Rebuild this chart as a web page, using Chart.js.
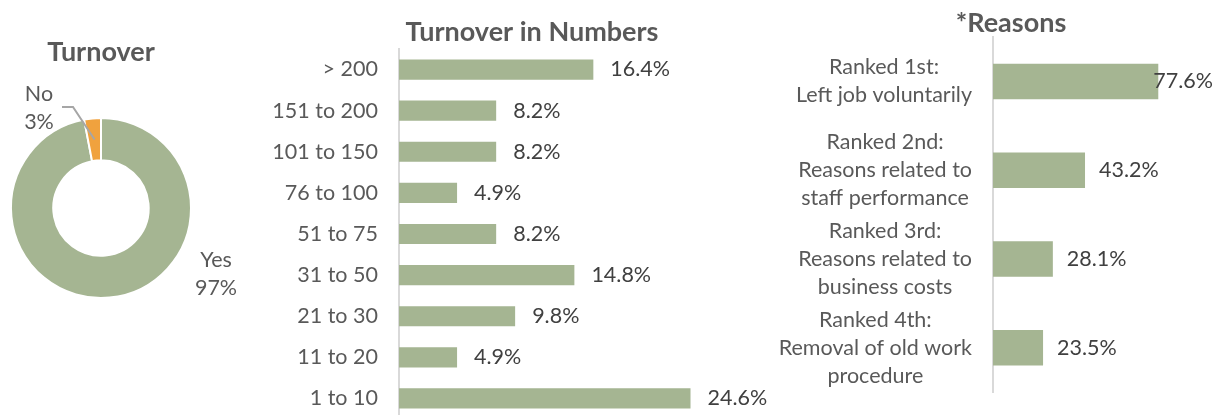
<!DOCTYPE html>
<html>
<head>
<meta charset="utf-8">
<title>Staff turnover</title>
<script src="https://cdn.jsdelivr.net/npm/chart.js@4.4.1/dist/chart.umd.min.js"></script>
<style>
  html, body { margin: 0; padding: 0; background: #ffffff; overflow: hidden; width: 1222px; height: 415px; }
  canvas { position: absolute; top: 0; }
</style>
</head>
<body>
<canvas id="turnover" width="250" height="415" style="left:0;width:250px;height:415px"></canvas>
<canvas id="numbers" width="540" height="420" style="left:260px;width:540px;height:420px"></canvas>
<canvas id="reasons" width="462" height="415" style="left:760px;width:462px;height:415px"></canvas>
<script>
// ---- data ----
const turnoverLabels = ['Yes', 'No'];
const turnoverValues = [97, 3];

const rangeLabels = ['> 200', '151 to 200', '101 to 150', '76 to 100', '51 to 75', '31 to 50', '21 to 30', '11 to 20', '1 to 10'];
const rangeValues = [16.4, 8.2, 8.2, 4.9, 8.2, 14.8, 9.8, 4.9, 24.6];

const reasonLabels = [
  ['Ranked 1st:', 'Left job voluntarily'],
  ['Ranked 2nd:', 'Reasons related to', 'staff performance'],
  ['Ranked 3rd:', 'Reasons related to', 'business costs'],
  ['Ranked 4th:', 'Removal of old work', 'procedure']
];
const reasonValues = [77.6, 43.2, 28.1, 23.5];

// ---- styling ----
const FONT = 'Lato, "Open Sans", sans-serif';
const GREEN = '#A5B592';
const ORANGE = '#F0A23E';
const LABEL_GREY = '#595959';
const VALUE_GREY = '#404040';
const AXIS_GREY = '#D9D9D9';
const TEXT_SIZE = 21.5;
const LINE_GAP = 28;
const TITLE_SIZE = 27;

// Value labels placed just past the end of each bar, kept inside the canvas
const valueLabels = {
  id: 'valueLabels',
  afterDatasetsDraw(chart, args, opts) {
    const ctx = chart.ctx;
    const meta = chart.getDatasetMeta(0);
    const values = chart.data.datasets[0].data;
    ctx.save();
    ctx.font = `${TEXT_SIZE}px ${FONT}`;
    ctx.fillStyle = VALUE_GREY;
    ctx.textAlign = 'left';
    ctx.textBaseline = 'middle';
    meta.data.forEach((bar, i) => {
      const text = values[i].toFixed(1) + '%';
      const w = ctx.measureText(text).width;
      let x = bar.x + opts.offset;
      const limit = chart.width - opts.rightMargin;
      if (x + w > limit) x = limit - w;
      ctx.fillText(text, x, bar.y);
    });
    ctx.restore();
  }
};

// Category labels: each block is right-aligned against the axis,
// with its lines centred inside the block
const blockLabels = {
  id: 'blockLabels',
  afterDraw(chart, args, opts) {
    const ctx = chart.ctx;
    const scale = chart.scales.y;
    ctx.save();
    ctx.font = `${TEXT_SIZE}px ${FONT}`;
    ctx.fillStyle = LABEL_GREY;
    ctx.textAlign = 'center';
    ctx.textBaseline = 'middle';
    chart.data.labels.forEach((label, i) => {
      const lines = Array.isArray(label) ? label : [label];
      const y = scale.getPixelForTick(i);
      const widest = Math.max(...lines.map(l => ctx.measureText(l).width));
      const cx = scale.right - opts.padding - widest / 2;
      lines.forEach((line, j) => {
        ctx.fillText(line, cx, y + (j - (lines.length - 1) / 2) * LINE_GAP);
      });
    });
    ctx.restore();
  }
};

// Doughnut slice labels with a leader line for the small slice
const donutLabels = {
  id: 'donutLabels',
  afterDatasetsDraw(chart) {
    const ctx = chart.ctx;
    const arcs = chart.getDatasetMeta(0).data;
    const cx = arcs[0].x, cy = arcs[0].y;
    ctx.save();
    ctx.font = `${TEXT_SIZE}px ${FONT}`;
    ctx.fillStyle = LABEL_GREY;
    ctx.textAlign = 'center';
    ctx.textBaseline = 'middle';

    // "Yes" sits outside the lower right of the ring
    ctx.fillText(turnoverLabels[0], cx + 115, cy + 52);
    ctx.fillText(turnoverValues[0] + '%', cx + 115, cy + 80);

    // "No" sits above left, joined to its slice by a bent line
    ctx.fillText(turnoverLabels[1], cx - 62, cy - 114);
    ctx.fillText(turnoverValues[1] + '%', cx - 62, cy - 86);

    const p = arcs[1].getCenterPoint();
    ctx.strokeStyle = '#A6A6A6';
    ctx.lineWidth = 2;
    ctx.beginPath();
    ctx.moveTo(cx - 39, cy - 101);
    ctx.lineTo(cx - 28, cy - 101);
    ctx.lineTo(p.x, p.y);
    ctx.stroke();
    ctx.restore();
  }
};

const titleFont = { family: FONT, size: TITLE_SIZE, weight: 'bold', lineHeight: 1.2 };

// ---- Turnover (doughnut) ----
new Chart(document.getElementById('turnover'), {
  type: 'doughnut',
  data: {
    labels: turnoverLabels,
    datasets: [{
      data: turnoverValues,
      backgroundColor: [GREEN, ORANGE],
      borderColor: '#ffffff',
      borderWidth: 2,
      hoverOffset: 0
    }]
  },
  options: {
    responsive: false,
    animation: false,
    cutout: '53%',
    layout: { padding: { left: 10, right: 58, top: 0, bottom: 116 } },
    plugins: {
      legend: { display: false },
      tooltip: { enabled: false },
      title: {
        display: true, text: 'Turnover', color: LABEL_GREY,
        font: titleFont, padding: { top: 36, bottom: 48.6 }
      }
    }
  },
  plugins: [donutLabels]
});

// ---- Turnover in Numbers (horizontal bars) ----
new Chart(document.getElementById('numbers'), {
  type: 'bar',
  data: {
    labels: rangeLabels,
    datasets: [{
      data: rangeValues,
      backgroundColor: GREEN,
      categoryPercentage: 1,
      barPercentage: 0.49
    }]
  },
  options: {
    indexAxis: 'y',
    responsive: false,
    animation: false,
    layout: { padding: { left: 49.5, right: 45.5, top: 0, bottom: 1 } },
    scales: {
      x: { display: false, min: 0, max: 30 },
      y: {
        grid: { display: false, drawTicks: false },
        border: { display: true, color: AXIS_GREY, width: 2 },
        ticks: { display: false },
        afterFit(scale) { scale.width = 89.5; }
      }
    },
    plugins: {
      legend: { display: false },
      tooltip: { enabled: false },
      title: {
        display: true, text: 'Turnover in Numbers', color: LABEL_GREY,
        font: titleFont, padding: { top: 15.6, bottom: 1 }
      },
      valueLabels: { offset: 17, rightMargin: 0 },
      blockLabels: { padding: 21 }
    }
  },
  plugins: [valueLabels, blockLabels]
});

// ---- *Reasons (horizontal bars) ----
new Chart(document.getElementById('reasons'), {
  type: 'bar',
  data: {
    labels: reasonLabels,
    datasets: [{
      data: reasonValues,
      backgroundColor: GREEN,
      categoryPercentage: 1,
      barPercentage: 0.40
    }]
  },
  options: {
    indexAxis: 'y',
    responsive: false,
    animation: false,
    layout: { padding: { left: 56, right: 16, top: 0, bottom: 23 } },
    scales: {
      x: { display: false, min: 0, max: 100 },
      y: {
        grid: { display: false, drawTicks: false },
        border: { display: true, color: AXIS_GREY, width: 2 },
        ticks: { display: false },
        afterFit(scale) { scale.width = 177; }
      }
    },
    plugins: {
      legend: { display: false },
      tooltip: { enabled: false },
      title: {
        display: true, text: '*Reasons', color: LABEL_GREY,
        font: { family: FONT, size: TITLE_SIZE, weight: 'bold', lineHeight: 1.0 },
        padding: { top: 10, bottom: 0 }
      },
      valueLabels: { offset: 14, rightMargin: 9 },
      blockLabels: { padding: 21 }
    }
  },
  plugins: [valueLabels, blockLabels]
});
</script>
</body>
</html>
